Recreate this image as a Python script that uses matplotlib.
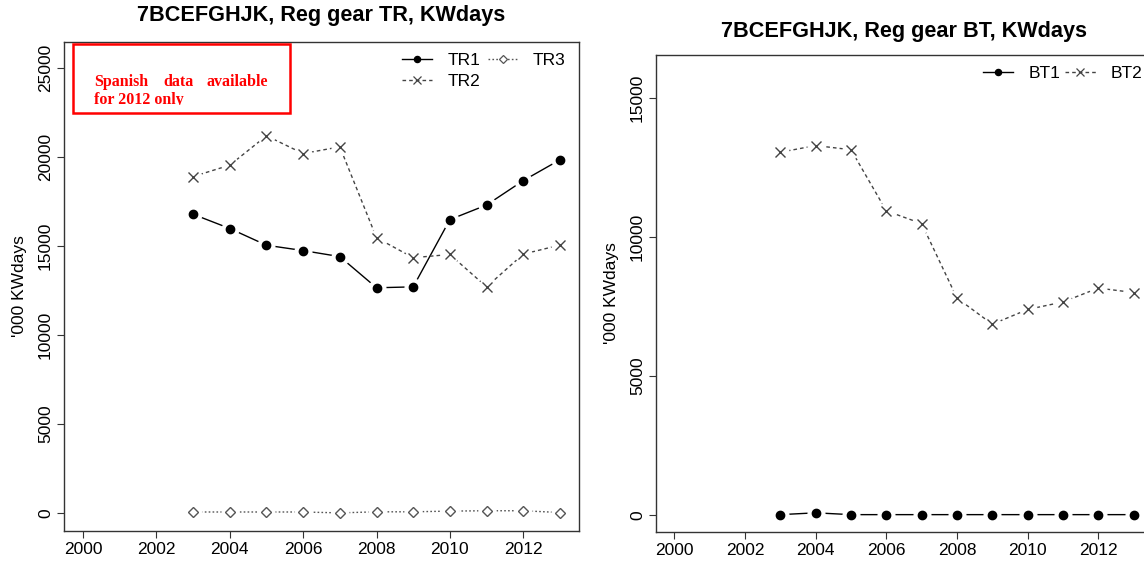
"""Effort by regulated gear group (TR and BT) in area 7BCEFGHJK, '000 KWdays."""

import matplotlib

matplotlib.use("Agg")
import matplotlib.pyplot as plt
from matplotlib.patches import Rectangle
from matplotlib.transforms import Bbox

plt.rcParams["font.family"] = ["Liberation Sans", "DejaVu Sans"]

YEARS = [2003, 2004, 2005, 2006, 2007, 2008, 2009, 2010, 2011, 2012, 2013]

TR1 = [16780, 15980, 15040, 14740, 14400, 12650, 12700, 16480, 17300, 18670, 19840]
TR2 = [18900, 19540, 21190, 20190, 20570, 15460, 14340, 14520, 12700, 14540, 15050]
TR3 = [50, 50, 50, 50, 0, 60, 60, 100, 120, 120, 20]

BT1 = [5, 70, 5, 5, 5, 5, 5, 5, 5, 5, 5]
BT2 = [13050, 13290, 13140, 10940, 10480, 7800, 6860, 7390, 7660, 8160, 8000]

X_TICKS = [2000, 2002, 2004, 2006, 2008, 2010, 2012]
TR_YTICKS = [0, 5000, 10000, 15000, 20000, 25000]
BT_YTICKS = [0, 5000, 10000, 15000]

W, H = 1144, 563
fig = plt.figure(figsize=(W / 100, H / 100), dpi=100)

DASHED = (0, (2.6, 2.2))
DOTTED = (0, (1.2, 1.6))


def box(left, top, right, bottom):
    return [left / W, 1 - bottom / H, (right - left) / W, (bottom - top) / H]


def series(ax, years, values, label, color, ls, marker, mfc, ms):
    ax.plot(years, values, color=color, linestyle=ls, linewidth=1, zorder=4)
    # white discs break the line around each point, like R's type="b"
    ax.plot(years, values, linestyle="None", marker="o", markersize=12,
            markerfacecolor="white", markeredgecolor="white", zorder=5)
    ax.plot(years, values, linestyle="None", marker=marker, markersize=ms,
            markerfacecolor=mfc, markeredgecolor=color, markeredgewidth=1,
            zorder=6)
    handle, = ax.plot([], [], color=color, linestyle=ls, linewidth=1,
                      marker=marker, markersize=ms * 0.75, markerfacecolor=mfc,
                      markeredgecolor=color, markeredgewidth=0.9, label=label)
    return handle


def style(ax, yticks, ylim, title, title_y):
    ax.set_xlim(1999.48, 2013.52)
    ax.set_ylim(*ylim)
    ax.set_xticks(X_TICKS)
    ax.set_yticks(yticks)
    ax.set_yticklabels([str(t) for t in yticks], rotation=90, va="center")
    ax.tick_params(direction="out", length=5, width=0.8, labelsize=12.5,
                   color="#333333", pad=3)
    for spine in ax.spines.values():
        spine.set_color("#333333")
        spine.set_linewidth(1)
    ax.set_ylabel("'000 KWdays", fontsize=12.5, labelpad=8)
    pos = ax.get_position()
    fig.text(pos.x0 + pos.width / 2, title_y, title,
             ha="center", va="center", fontsize=15.6, fontweight="bold")


# Left panel: TR gears
ax1 = fig.add_axes(box(64, 42, 579, 531))
h1 = series(ax1, YEARS, TR1, "TR1", "black", "-", "o", "black", 6)
h2 = series(ax1, YEARS, TR2, "TR2", "#444444", DASHED, "x", "none", 7)
h3 = series(ax1, YEARS, TR3, "TR3", "#555555", DOTTED, "D", "white", 5.5)
style(ax1, TR_YTICKS, (-1018, 26460), "7BCEFGHJK, Reg gear TR, KWdays", 1 - 16 / H)
ax1.legend(handles=[h1, h2, h3], ncol=2, frameon=False, fontsize=12.5,
           loc="upper left", bbox_to_anchor=(402 / W, 1 - 53 / H),
           bbox_transform=fig.transFigure, borderpad=0, borderaxespad=0,
           handlelength=1.75, handletextpad=0.85, columnspacing=0.45,
           labelspacing=0.35)

note = Rectangle((73 / W, 1 - 113 / H), (290 - 73) / W, (113 - 44) / H,
                 transform=fig.transFigure, fill=False, edgecolor="red",
                 linewidth=1.8, zorder=7)
fig.add_artist(note)
serif = dict(family=["Liberation Serif", "DejaVu Serif"], fontsize=11.5,
             fontweight="bold", color="red", va="baseline")
fig.text(94 / W, 1 - 86 / H, "Spanish", ha="left", **serif)
fig.text(179 / W, 1 - 86 / H, "data", ha="center", **serif)
fig.text(268 / W, 1 - 86 / H, "available", ha="right", **serif)
last = fig.text(94 / W, 1 - 104 / H, "for 2012 only", ha="left", **serif)
last.set_clip_box(Bbox.from_extents(0, H - 105, W, H))

# Right panel: BT gears (runs past the right edge of the figure)
ax2 = fig.add_axes(box(656, 55, 1152, 532))
g1 = series(ax2, YEARS, BT1, "BT1", "black", "-", "o", "black", 6)
g2 = series(ax2, YEARS, BT2, "BT2", "#444444", DASHED, "x", "none", 7)
style(ax2, BT_YTICKS, (-620, 16550), "7BCEFGHJK, Reg gear BT, KWdays", 1 - 31 / H)
ax2.legend(handles=[g1, g2], ncol=2, frameon=False, fontsize=12.5,
           loc="upper left", bbox_to_anchor=(983 / W, 1 - 66 / H),
           bbox_transform=fig.transFigure, borderpad=0, borderaxespad=0,
           handlelength=1.75, handletextpad=0.85, columnspacing=0.3)

fig.savefig("out.png", dpi=100)
